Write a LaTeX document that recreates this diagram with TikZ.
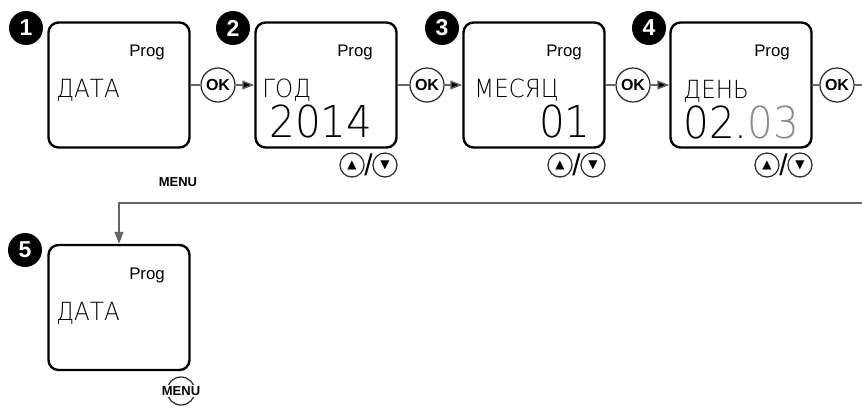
\documentclass[tikz,border=0pt]{standalone}
\usepackage{fontspec}
\setsansfont{Liberation Sans}
\IfFontExistsTF{DejaVu Sans ExtraLight}
  {\newfontfamily\lcdfont{DejaVu Sans ExtraLight}[FakeStretch=0.92]}
  {\newfontfamily\lcdfont{DejaVu Sans}[FakeStretch=0.92]}
\newfontfamily\symfont{DejaVu Sans}
\usepackage{xcolor}
\usetikzlibrary{arrows.meta}

\tikzset{
  screen/.style={draw=black, line width=1.2pt, rounded corners=5pt, minimum width=70.5pt, minimum height=62.5pt, inner sep=0pt},
  badge/.style={circle, fill=black, text=white, inner sep=0pt, minimum size=17pt, font=\sffamily\bfseries\fontsize{11.5}{11.5}\selectfont},
  okbtn/.style={circle, draw=black!85, line width=0.6pt, inner sep=0pt, minimum size=17pt, font=\sffamily\bfseries\fontsize{8}{8}\selectfont},
  keybtn/.style={circle, draw=black!85, line width=0.6pt, inner sep=0pt, minimum size=12pt, font=\symfont\fontsize{6}{6}\selectfont},
  keysep/.style={inner sep=0pt, font=\sffamily\fontsize{15}{15}\selectfont},
  proglabel/.style={inner sep=0pt, font=\sffamily\fontsize{8.4}{8.4}\selectfont},
  menulabel/.style={inner sep=0pt, font=\sffamily\bfseries\fontsize{6.5}{6.5}\selectfont},
  lcdsmall/.style={inner sep=0pt, anchor=base west, font=\lcdfont\fontsize{12.5}{12.5}\selectfont},
  lcdbig/.style={inner sep=0pt, font=\lcdfont\fontsize{22}{22}\selectfont},
  flow/.style={draw=black!60, line width=0.7pt},
  tip/.style={-{Triangle[length=6pt,width=4.5pt]}},
}

\begin{document}
\begin{tikzpicture}[x=0.5pt, y=-0.5pt]
	\useasboundingbox (0,0) rectangle (862,408);
	% screens
	\node[screen] (s1) at (119,85) {};
	\node[screen] (s2) at (326,85) {};
	\node[screen] (s3) at (534,85) {};
	\node[screen] (s4) at (741,85) {};
	\node[screen] (s5) at (119,307.5) {};
	% step numbers
	\node[badge] (b1) at (26,28) {1};
	\node[badge] (b2) at (233,28) {2};
	\node[badge] (b3) at (442,28) {3};
	\node[badge] (b4) at (649,28) {4};
	\node[badge] (b5) at (25,250) {5};
	% display texts
	\node[proglabel] (p1) at (147,52.5) {Prog};
	\node[proglabel] (p2) at (355,52.5) {Prog};
	\node[proglabel] (p3) at (564,52.5) {Prog};
	\node[proglabel] (p4) at (772,52.5) {Prog};
	\node[proglabel] (p5) at (147,275) {Prog};
	\node[lcdsmall] (t1) at (56,97) {ДАТА};
	\node[lcdsmall] (t2) at (262,97) {ГОД};
	\node[lcdbig, anchor=base west] (d2) at (269,137) {2014};
	\node[lcdsmall] (t3) at (474,97) {МЕСЯЦ};
	\node[lcdbig, anchor=base east] (d3) at (591,137) {01};
	\node[lcdsmall] (t4) at (683,98) {ДЕНЬ};
	\node[lcdbig, anchor=base west] (d4) at (683,138) {02.{\color{black!45}03}};
	\node[lcdsmall] (t5) at (56,320) {ДАТА};
	% buttons
	\node[okbtn] (ok1) at (218,85) {OK};
	\node[okbtn] (ok2) at (427,85) {OK};
	\node[okbtn] (ok3) at (633,85) {OK};
	\node[okbtn] (ok4) at (837,85) {OK};
	\foreach \s/\x in {2/326,3/534,4/741} {
		\node[keybtn] (up\s) at (\x+26,165) {▲};
		\node[keybtn] (dn\s) at (\x+59,165) {▼};
		\node[keysep] (sl\s) at (\x+42.5,165) {/};
	}
	\node[menulabel] (menu1) at (178,182) {MENU};
	\node[circle, draw=black!85, line width=0.6pt, minimum size=14pt] (mkey) at (181,391) {};
	\node[menulabel, fill=white, inner sep=0.8pt] (menu5) at (181,391) {MENU};
	% connectors
	\coordinate (r1) at (862,85);
	\coordinate (r2) at (862,203);
	\path[flow] (s1) edge (ok1);
	\path[flow,tip] (ok1) edge (s2);
	\path[flow] (s2) edge (ok2);
	\path[flow,tip] (ok2) edge (s3);
	\path[flow] (s3) edge (ok3);
	\path[flow,tip] (ok3) edge (s4);
	\path[flow] (s4) edge (ok4);
	\path[flow] (ok4) edge (r1);
	\draw[flow,tip] (r2) -| (s5.north);
\end{tikzpicture}
\end{document}
